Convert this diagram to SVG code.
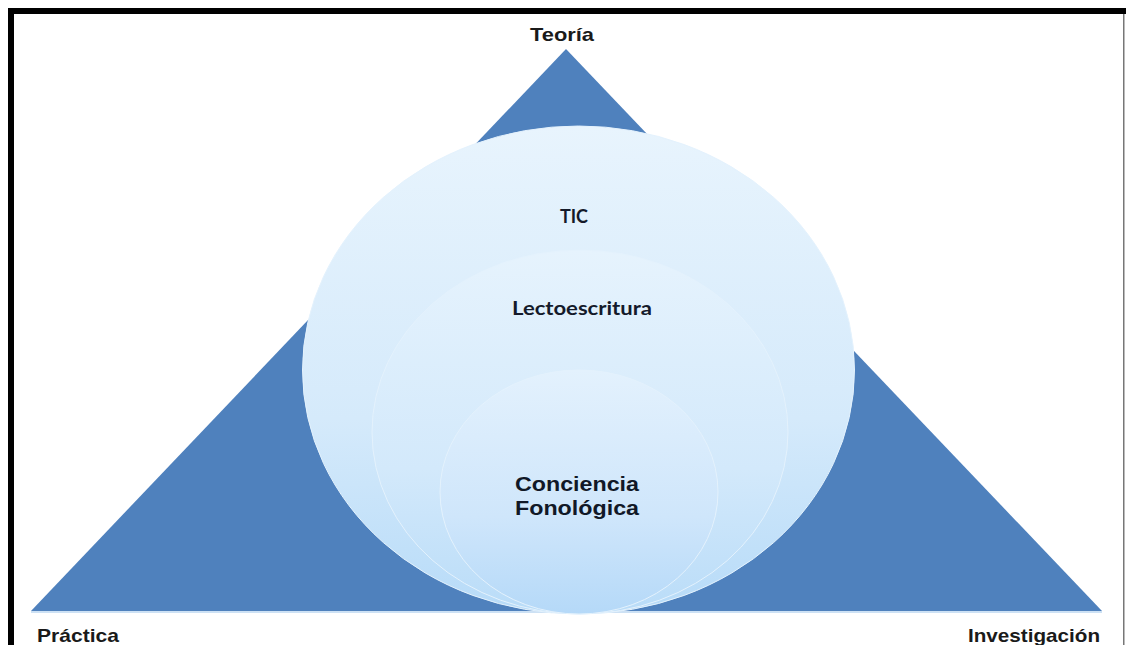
<svg xmlns="http://www.w3.org/2000/svg" width="1126" height="645" viewBox="0 0 1126 645">
<defs>
<linearGradient id="g1" x1="0" y1="0" x2="0" y2="1">
<stop offset="0" stop-color="#e8f4fd"/>
<stop offset="0.6" stop-color="#d5eafb"/>
<stop offset="1" stop-color="#b7dbf8"/>
</linearGradient>
<linearGradient id="g2" x1="0" y1="0" x2="0" y2="1">
<stop offset="0" stop-color="#e6f3fd"/>
<stop offset="0.6" stop-color="#d3e9fb"/>
<stop offset="1" stop-color="#b9dcf8"/>
</linearGradient>
<linearGradient id="g3" x1="0" y1="0" x2="0" y2="1">
<stop offset="0" stop-color="#e3f1fd"/>
<stop offset="0.6" stop-color="#cfe6fb"/>
<stop offset="1" stop-color="#b5d9f8"/>
</linearGradient>
<style>
.lbl{font-family:"Liberation Sans",Arial,sans-serif;font-weight:bold;fill:#1a1a1a}
.in{font-family:"Liberation Sans",Arial,sans-serif;font-weight:bold;fill:#111827}
.cal{font-family:Lato,"Liberation Sans",sans-serif;font-weight:bold;fill:#141a2a}
.ell{stroke:#e4f2fd;stroke-width:1}
</style>
</defs>
<rect x="0" y="0" width="1126" height="645" fill="#ffffff"/>
<g id="frame">
<rect x="8" y="8" width="1118" height="6" fill="#000"/>
<rect x="8" y="8" width="6" height="637" fill="#000"/>
<rect x="1123" y="14" width="1.5" height="631" fill="#777"/>
</g>
<g id="triangle">
<polygon points="566,49 31,611 1102,611" fill="#4f81bd"/>
<line x1="31" y1="612" x2="1102" y2="612" stroke="#bcd7f0" stroke-width="1.5"/>
</g>
<g id="node-tic">
<ellipse cx="578.5" cy="370" rx="276" ry="244" fill="url(#g1)" class="ell"/>
<text x="574" y="223" class="cal" font-size="18" text-anchor="middle">TIC</text>
</g>
<g id="node-lecto">
<ellipse cx="580" cy="432" rx="208" ry="182" fill="url(#g2)" class="ell"/>
<text x="582" y="315" class="cal" font-size="18" text-anchor="middle" textLength="140" lengthAdjust="spacingAndGlyphs">Lectoescritura</text>
</g>
<g id="node-conciencia">
<ellipse cx="579" cy="492" rx="139" ry="122" fill="url(#g3)" class="ell"/>
<text x="577" y="491" class="in" font-size="21" text-anchor="middle" textLength="124" lengthAdjust="spacingAndGlyphs">Conciencia</text>
<text x="577" y="515" class="in" font-size="21" text-anchor="middle" textLength="124" lengthAdjust="spacingAndGlyphs">Fonológica</text>
</g>
<g id="node-teoria"><text x="562" y="41" class="lbl" font-size="19" text-anchor="middle" textLength="64" lengthAdjust="spacingAndGlyphs">Teoría</text></g>
<g id="node-practica"><text x="37" y="642" class="lbl" font-size="19" textLength="82" lengthAdjust="spacingAndGlyphs">Práctica</text></g>
<g id="node-investigacion"><text x="1100" y="642" class="lbl" font-size="19" text-anchor="end" textLength="132" lengthAdjust="spacingAndGlyphs">Investigación</text></g>
<g id="connectors"></g>
</svg>
